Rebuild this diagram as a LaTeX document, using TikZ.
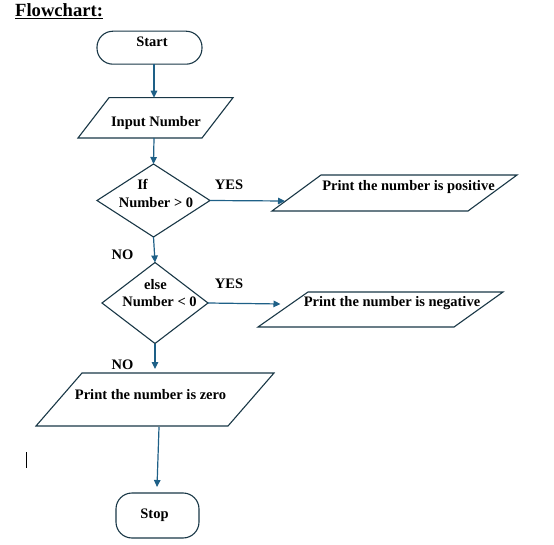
\documentclass[tikz,border=0pt]{standalone}
\usepackage{fontspec}
\setmainfont{Liberation Serif}
\usetikzlibrary{arrows.meta,shapes.geometric}
\definecolor{arrowc}{RGB}{30,96,135}
\definecolor{shapec}{RGB}{25,55,70}
\tikzset{
  flowline/.style={draw=shapec, line width=1.1pt},
  term/.style={flowline, rectangle, rounded corners=16pt, inner sep=0pt, outer sep=0pt},
  dia/.style={flowline, diamond, inner sep=0pt, outer sep=0pt},
  para/.style={flowline, line join=miter},
  conn/.style={draw=arrowc, line width=1.2pt, -{Triangle[length=7pt,width=6.5pt]}},
  txt/.style={font=\fontsize{14.5}{17}\selectfont\bfseries, inner sep=0pt, text height=9.6pt, text depth=0pt, anchor=center}
}
\begin{document}
\begin{tikzpicture}[x=1pt,y=-1pt]
\useasboundingbox (0,0) rectangle (554,545);
% title
\node[font=\fontsize{18.6}{22}\selectfont\bfseries, inner sep=0pt, anchor=base west] (title) at (15,17) {\underline{Flowchart:}};
% start
\node[term, minimum width=105pt, minimum height=33pt] (start) at (149.5,47.7) {};
\node[txt] (startlbl) at (152,42) {Start};
% input
\draw[para] (109,97.7) -- (233,97.7) -- (202,138) -- (78,138) -- cycle;
\coordinate (inTop) at (154,97.7);
\coordinate (inBot) at (154,138);
\node[txt] (inlbl) at (156,122) {Input Number};
% diamond 1
\node[dia, minimum width=113pt, minimum height=73pt] (d1) at (153.5,200.5) {};
\node[txt] (d1a) at (142.5,185) {If};
\node[txt] (d1b) at (156,203) {Number > 0};
% positive
\draw[para] (321,175) -- (517,175) -- (468,211) -- (272,211) -- cycle;
\coordinate (posIn) at (285,201);
\node[txt] (poslbl) at (408.5,185.5) {Print the number is positive};
\node[txt] (yes1) at (229,185) {YES};
% diamond 2
\node[dia, minimum width=106pt, minimum height=81pt] (d2) at (155,303) {};
\node[txt] (d2a) at (155.5,284.5) {else};
\node[txt] (d2b) at (159.5,302) {Number < 0};
\node[txt] (no1) at (122.5,255) {NO};
% negative
\draw[para] (308,292) -- (503,292) -- (454,327) -- (258,327) -- cycle;
\coordinate (negIn) at (280.5,304);
\node[txt] (neglbl) at (392,302) {Print the number is negative};
\node[txt] (yes2) at (229,284) {YES};
% zero
\draw[para] (82,373) -- (274,373) -- (228,426) -- (36,426) -- cycle;
\coordinate (zeroTop) at (155,369);
\coordinate (zeroBot) at (159,427);
\node[txt] (zerolbl) at (150.5,394.5) {Print the number is zero};
\node[txt] (no2) at (122.5,365) {NO};
% stop
\node[term, minimum width=83pt, minimum height=45pt] (stop) at (157.5,515.5) {};
\node[txt] (stoplbl) at (154.5,513.5) {Stop};
\coordinate (stopIn) at (157,487);
% text cursor
\draw[black, line width=0.8pt] (26,452) -- (26,468);
% connectors
\coordinate (startOut) at (154,64);
\draw[conn] (startOut) -- (inTop);
\draw[conn] (inBot) -- (d1.north);
\draw[conn] (d1.east) -- (posIn);
\draw[conn] (d1.south) -- (d2.north);
\draw[conn] (d2.east) -- (negIn);
\draw[conn] (d2.south) -- (zeroTop);
\draw[conn] (zeroBot) -- (stopIn);
\end{tikzpicture}
\end{document}
